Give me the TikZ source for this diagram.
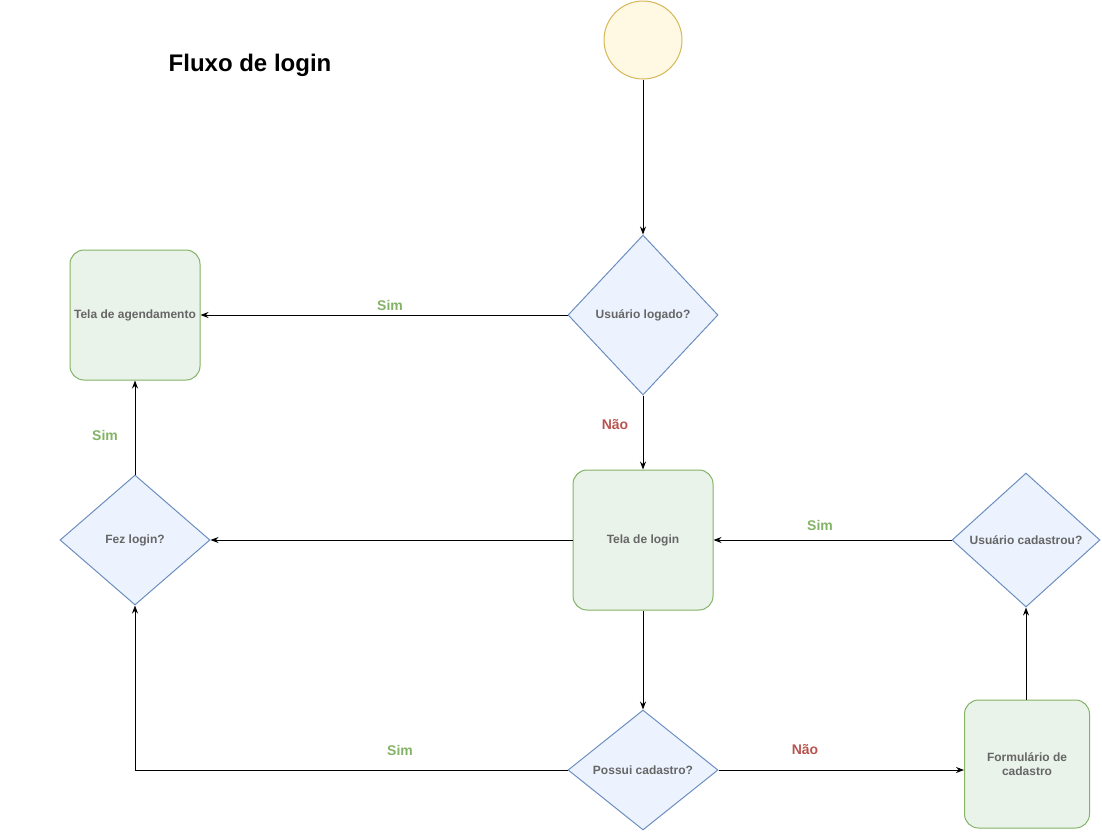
\documentclass[tikz,border=0pt]{standalone}
\usepackage{fontspec}
\setmainfont{Liberation Sans}
\usepackage{tikz}
\usetikzlibrary{shapes.geometric}
\usetikzlibrary{arrows.meta}

\definecolor{yelline}{HTML}{D6B656}
\definecolor{yelfill}{HTML}{FFF2CC}
\definecolor{grnline}{HTML}{82B366}
\definecolor{grnfill}{HTML}{D5E8D4}
\definecolor{bluline}{HTML}{6C8EBF}
\definecolor{blufill}{HTML}{DAE8FC}
\definecolor{txtgray}{HTML}{666666}
\definecolor{nored}{HTML}{B85450}

\begin{document}
\begin{tikzpicture}[x=1pt, y=-1pt,
    every node/.style={font=\fontsize{12}{14}\selectfont\bfseries, text=txtgray},
    screen/.style={draw=grnline, fill=grnfill!50!white, line width=1pt, rounded corners=14pt, align=center},
    question/.style={diamond, draw=bluline, fill=blufill!50!white, line width=1pt, inner sep=0pt, align=center},
    flow/.style={-{Stealth[length=8pt,width=6pt]}, line width=0.9pt},
    yes/.style={text=grnline, font=\fontsize{14}{16}\selectfont\bfseries},
    no/.style={text=nored, font=\fontsize{14}{16}\selectfont\bfseries}]
  \useasboundingbox (0,0) rectangle (1102,831);

  \node[text=black, font=\fontsize{24}{28}\selectfont\bfseries] (title) at (250,65) {Fluxo de login};

  % start
  \node[circle, draw=yelline, fill=yelfill!55!white, line width=1pt, minimum size=78pt] (start) at (643,40) {};

  % top row
  \node[question, minimum width=150pt, minimum height=160pt] (logado) at (643,315) {Usuário logado?};
  \node[screen, minimum width=130pt, minimum height=130pt] (agenda) at (135,315) {Tela de agendamento};

  % middle row
  \node[question, minimum width=150pt, minimum height=130pt] (fez) at (135,540) {Fez login?};
  \node[screen, minimum width=140pt, minimum height=140pt] (login) at (643,540) {Tela de login};
  \node[question, minimum width=148pt, minimum height=134pt] (cadastrou) at (1026,540) {Usuário cadastrou?};

  % bottom row
  \node[question, minimum width=150pt, minimum height=120pt] (possui) at (643,770) {Possui cadastro?};
  \node[screen, minimum width=125pt, minimum height=128pt] (form) at (1027,764) {Formulário de\\cadastro};

  \draw[flow] (start) -- (logado);
  \draw[flow] (logado) -- (agenda);
  \draw[flow] (logado) -- (login);
  \draw[flow] (login) -- (fez);
  \draw[flow] (fez) -- (agenda);
  \draw[flow] (login) -- (possui);
  \draw[flow] (possui.west) -| (fez.south);
  \draw[flow] (possui) -- (form.west |- possui);
  \draw[flow] (form.north -| cadastrou) -- (cadastrou);
  \draw[flow] (cadastrou) -- (login);

  % answers
  \node[yes] (l1) at (390,305) {Sim};
  \node[no] (l2) at (615,425) {Não};
  \node[yes] (l3) at (105,435) {Sim};
  \node[yes] (l4) at (820,525) {Sim};
  \node[yes] (l5) at (400,750) {Sim};
  \node[no] (l6) at (805,750) {Não};
\end{tikzpicture}
\end{document}
